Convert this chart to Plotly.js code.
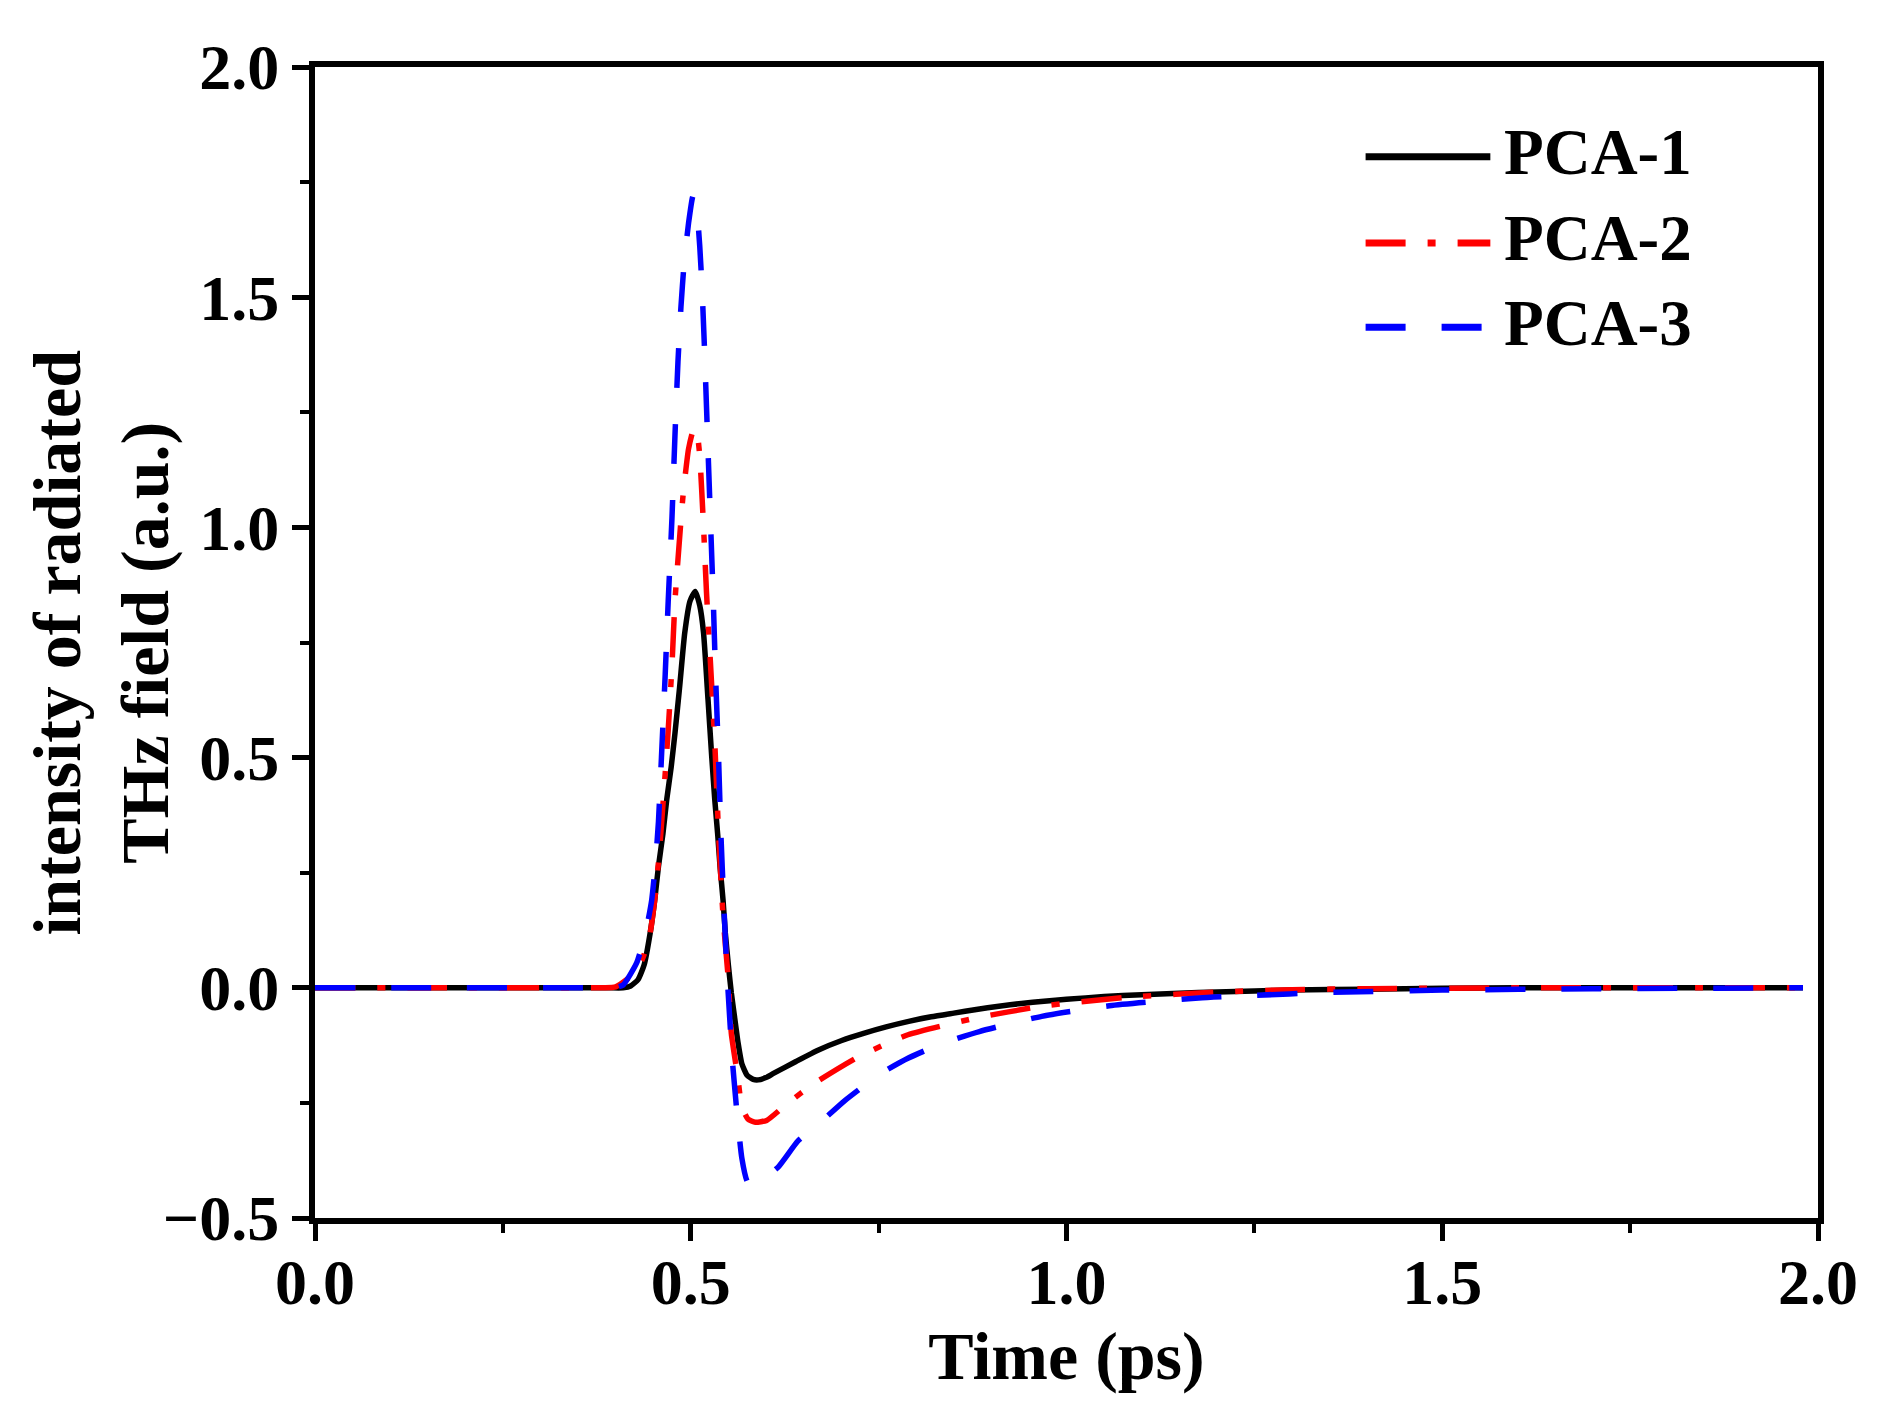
<!DOCTYPE html>
<html>
<head>
<meta charset="utf-8">
<script src="https://cdn.plot.ly/plotly-3.0.1.min.js"></script>
<style>html,body{margin:0;padding:0;background:#fff;}</style>
</head>
<body>
<div id="chart" style="width:1895px;height:1427px;"></div>
<script>
const NAMES = ['PCA-1', 'PCA-2', 'PCA-3'];

const T1 = [0, 0.2, 0.35, 0.39, 0.41, 0.42, 0.43, 0.438, 0.446, 0.452, 0.457, 0.463, 0.468, 0.474, 0.479, 0.485, 0.492, 0.499, 0.506,
  0.512, 0.517, 0.523, 0.528, 0.532, 0.536, 0.539, 0.543, 0.546, 0.55, 0.554, 0.558, 0.563, 0.568, 0.575, 0.583,
  0.59, 0.6, 0.61, 0.64, 0.67, 0.7, 0.73, 0.76, 0.79, 0.82, 0.85, 0.88, 0.91, 0.94, 0.97, 1.0, 1.05, 1.1, 1.15,
  1.2, 1.25, 1.3, 1.4, 1.5, 1.6, 1.8, 1.98];
const PCA1 = [0, 0, 0, 0, 0, 0.004, 0.018, 0.05, 0.119, 0.19, 0.263, 0.335, 0.408, 0.48, 0.553, 0.65, 0.771, 0.84, 0.861,
  0.83, 0.771, 0.626, 0.5, 0.408, 0.33, 0.263, 0.19, 0.119, 0.05, -0.011, -0.06, -0.12, -0.165, -0.19, -0.199,
  -0.2, -0.195, -0.186, -0.16, -0.135, -0.115, -0.099, -0.085, -0.073, -0.063, -0.055, -0.047, -0.04, -0.034,
  -0.029, -0.025, -0.019, -0.015, -0.012, -0.009, -0.007, -0.005, -0.003, -0.001, 0, 0, 0];

const T2 = [0, 0.2, 0.35, 0.385, 0.4, 0.42, 0.435, 0.445, 0.452, 0.458, 0.464, 0.47, 0.475, 0.479, 0.486, 0.49, 0.497, 0.503, 0.506,
  0.509, 0.512, 0.517, 0.521, 0.526, 0.532, 0.537, 0.543, 0.55, 0.554, 0.5625, 0.568, 0.576, 0.586, 0.601, 0.628,
  0.664, 0.723, 0.789, 0.878, 0.967, 1.086, 1.205, 1.3, 1.4, 1.6, 1.98];
const PCA2 = [0, 0, 0, 0, 0.002, 0.025, 0.06, 0.11, 0.19, 0.29, 0.42, 0.56, 0.7, 0.84, 0.995, 1.074, 1.17, 1.21, 1.215,
  1.2, 1.155, 1.002, 0.857, 0.712, 0.531, 0.336, 0.155, 0.017, -0.099, -0.193, -0.259, -0.285, -0.292, -0.288,
  -0.252, -0.208, -0.15, -0.102, -0.066, -0.04, -0.02, -0.009, -0.004, -0.002, 0, 0];

const T3 = [0, 0.2, 0.35, 0.385, 0.4, 0.41, 0.428, 0.44, 0.448, 0.453, 0.457, 0.461, 0.466, 0.47, 0.475, 0.479, 0.483, 0.487, 0.491,
  0.497, 0.503, 0.508, 0.512, 0.515, 0.518, 0.521, 0.524, 0.527, 0.53, 0.533, 0.537, 0.54, 0.544, 0.548, 0.552,
  0.556, 0.562, 0.568, 0.575, 0.582, 0.592, 0.616, 0.643, 0.67, 0.705, 0.753, 0.789, 0.836, 0.884, 0.967, 1.057,
  1.176, 1.241, 1.35, 1.5, 1.7, 1.98];
const PCA3 = [0, 0, 0, 0, 0.001, 0.006, 0.054, 0.12, 0.19, 0.27, 0.36, 0.5, 0.68, 0.84, 1.02, 1.2, 1.36, 1.48, 1.57,
  1.66, 1.72, 1.69, 1.61, 1.52, 1.4, 1.26, 1.12, 0.98, 0.84, 0.68, 0.5, 0.34, 0.18, 0.04, -0.07,
  -0.17, -0.28, -0.37, -0.42, -0.43, -0.42, -0.39, -0.332, -0.296, -0.245, -0.186, -0.153, -0.12, -0.095, -0.062,
  -0.039, -0.022, -0.017, -0.01, -0.005, -0.002, 0];

const FONT = 'Liberation Serif, Times New Roman, serif';
const COLORS = ['#000000', '#ff0000', '#0000ff'];
const DASHES = ['solid', '40px,22px,8px,22px', '40px,36px'];

const traces = [[T1, PCA1], [T2, PCA2], [T3, PCA3]].map(([x, y], i) => ({
  x, y, type: 'scatter', mode: 'lines', name: NAMES[i],
  line: { color: COLORS[i], width: 5.5, dash: DASHES[i], shape: 'spline', smoothing: 0.5 },
}));

// legend drawn by hand so the sample lines are as long as in the figure
const legY = [0.922, 0.847, 0.774];
const shapes = NAMES.map((n, i) => ({
  type: 'line', xref: 'paper', yref: 'paper', x0: 0.699, x1: 0.782, y0: legY[i], y1: legY[i],
  line: { color: COLORS[i], width: 7, dash: DASHES[i] },
}));
const annotations = NAMES.map((n, i) => ({
  text: n, xref: 'paper', yref: 'paper', x: 0.79, y: legY[i] + 0.004, xanchor: 'left', yanchor: 'middle',
  showarrow: false, font: { family: FONT, size: 65, color: '#000', weight: 'bold' },
}));
// y title as annotation: the figure sets it closer to the tick labels than plotly allows
annotations.push({
  text: 'intensity of radiated<br>THz field (a.u.)', xref: 'paper', yref: 'paper', x: -0.143, y: 0.5,
  xanchor: 'center', yanchor: 'middle', textangle: -90, showarrow: false,
  font: { family: FONT, size: 68, color: '#000', weight: 'bold' },
});

const axis = {
  showline: true, linewidth: 6, linecolor: '#000', mirror: true, showgrid: false, zeroline: false,
  ticks: 'outside', ticklen: 17, tickwidth: 5, tickcolor: '#000', dtick: 0.5, tickformat: '.1f',
  tickfont: { family: FONT, size: 64, color: '#000', weight: 'bold' },
  minor: { ticks: 'outside', ticklen: 9, tickwidth: 4, tickcolor: '#000', dtick: 0.25, showgrid: false },
};

Plotly.newPlot('chart', traces, {
  width: 1895, height: 1427, showlegend: false,
  margin: { l: 315, r: 77, t: 67, b: 209 },
  paper_bgcolor: '#fff', plot_bgcolor: '#fff',
  xaxis: { ...axis, range: [0, 2], tick0: 0, ticklabelstandoff: -14,
    title: { text: 'Time (ps)', standoff: 12, font: { family: FONT, size: 68, color: '#000', weight: 'bold' } } },
  yaxis: { ...axis, range: [-0.5, 2], tick0: 0 },
  shapes, annotations,
}, { staticPlot: true });
</script>
</body>
</html>
